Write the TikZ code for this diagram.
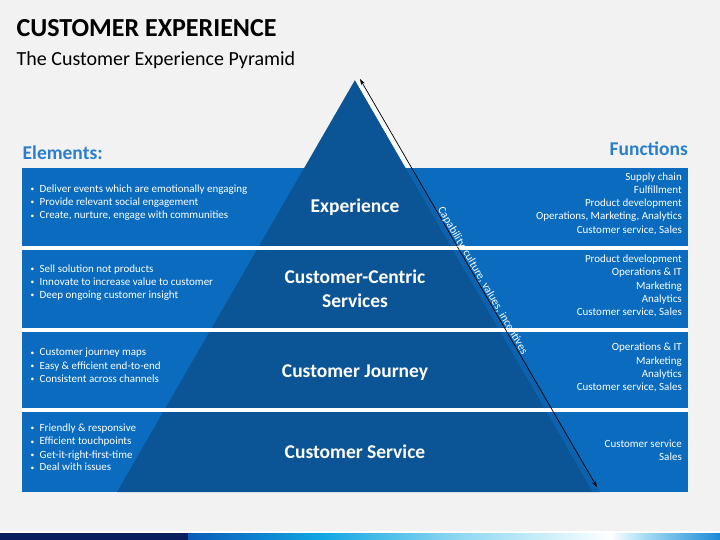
\documentclass[tikz,border=0pt]{standalone}
\usepackage{fontspec}
\setmainfont{Carlito}
\usetikzlibrary{arrows.meta,calc}
\definecolor{bg}{HTML}{F2F2F2}
\definecolor{band}{HTML}{0A6BBF}
\definecolor{face}{HTML}{0B5495}
\definecolor{facet}{HTML}{0D62AE}
\definecolor{headblue}{HTML}{2A7FCC}
\definecolor{navy}{HTML}{0B1F5E}
\definecolor{gA}{HTML}{0A5CB8}
\definecolor{gB}{HTML}{12A6E3}
\definecolor{gC}{HTML}{8FD8F2}
\definecolor{gD}{HTML}{D0F0FA}
\definecolor{gE}{HTML}{FFFFFF}
\definecolor{gF}{HTML}{A5DCF4}
\definecolor{gG}{HTML}{1A8AD6}
\begin{document}
\begin{tikzpicture}[x=1pt,y=-1pt,
  smalltext/.style={text=white,font=\fontsize{11}{13}\selectfont,inner sep=0pt},
  lefttext/.style={smalltext,anchor=base west},
  righttext/.style={smalltext,anchor=base east},
  bulletmark/.style={text=white,font=\fontsize{7.5}{8}\selectfont,inner sep=0pt,anchor=base west},
  pyrlabel/.style={text=white,font=\fontsize{19.5}{22}\selectfont\bfseries,inner sep=0pt,anchor=base},
  heading/.style={text=headblue,font=\fontsize{19.5}{22}\selectfont\bfseries,inner sep=0pt},
  gapline/.style={fill=white}]
\useasboundingbox (0,0) rectangle (720,540);
\fill[bg] (0,0) rectangle (720,540);

% title
\node[anchor=base west,inner sep=0pt,font=\fontsize{26}{30}\selectfont\bfseries] (title) at (16.5,36.7) {CUSTOMER EXPERIENCE};
\node[anchor=base west,inner sep=0pt,font=\fontsize{20}{24}\selectfont] (subtitle) at (16.5,65.5) {The Customer Experience Pyramid};
\node[heading,anchor=base west] (elements) at (22.5,160) {Elements:};
\node[heading,anchor=base east] (functions) at (688,156) {Functions};

% bands
\fill[band] (22,168) rectangle (688,492);

% pyramid
\coordinate (apex) at (355,80);
\coordinate (bl) at (117,492);
\coordinate (br) at (593,492);
\coordinate (atop) at (360,79);
\coordinate (abot) at (597,487);
\fill[face] (apex) -- (bl) -- (br) -- cycle;
\begin{scope}
  \clip (0,168) rectangle (720,492);
  \fill[facet] (apex) -- (br) -- (600,492) -- (359,80) -- cycle;
\end{scope}
\begin{scope}
  \clip (0,0) rectangle (720,168);
  \fill[white] (apex) -- (br) -- (600,492) -- (359,80) -- cycle;
\end{scope}

% white gaps between bands
\fill[gapline] (22,245.5) rectangle (688,249.8);
\fill[gapline] (22,327.8) rectangle (688,332.2);
\fill[gapline] (22,407.8) rectangle (688,412.2);

% arrow
\draw[line width=0.7pt,{Stealth[length=6pt,width=4pt]}-{Stealth[length=6pt,width=4pt]}] (atop) -- (abot);
\coordinate (ttop) at ($(atop)+(1.4,-0.8)$);
\coordinate (tbot) at ($(abot)+(1.4,-0.8)$);
\path (ttop) -- node[sloped,anchor=base,inner sep=0pt,text=white,font=\fontsize{11.3}{13}\selectfont] (cap) {Capability, culture, values, incentives} (tbot);

% pyramid labels
\node[pyrlabel] (pl1) at (355,212.5) {Experience};
\node[pyrlabel] (pl2a) at (355,283) {Customer-Centric};
\node[pyrlabel] (pl2b) at (355,307) {Services};
\node[pyrlabel] (pl3) at (355,377) {Customer Journey};
\node[pyrlabel] (pl4) at (355,458) {Customer Service};

% left bullet text
\foreach \y/\t [count=\i] in {
  192.2/{Deliver events which are emotionally engaging},
  205.5/{Provide relevant social engagement},
  218.9/{Create, nurture, engage with communities},
  272.2/{Sell solution not products},
  285.5/{Innovate to increase value to customer},
  298.2/{Deep ongoing customer insight},
  355.9/{Customer journey maps},
  369.2/{Easy \& efficient end-to-end},
  382.5/{Consistent across channels},
  431.5/{Friendly \& responsive},
  444.9/{Efficient touchpoints},
  458.2/{Get-it-right-first-time},
  470.9/{Deal with issues}}
{
  \node[bulletmark] (b\i) at (30.5,\y-0.6) {•};
  \node[lefttext] (l\i) at (39.5,\y) {\t};
}

% right function text
\foreach \y/\t [count=\i] in {
  180.5/{Supply chain},
  193.5/{Fulfillment},
  206.5/{Product development},
  219.9/{Operations, Marketing, Analytics},
  233.2/{Customer service, Sales},
  262.5/{Product development},
  275.9/{Operations \& IT},
  289.2/{Marketing},
  302.5/{Analytics},
  315.9/{Customer service, Sales},
  350.9/{Operations \& IT},
  364.2/{Marketing},
  377.5/{Analytics},
  390.5/{Customer service, Sales},
  447.2/{Customer service},
  460.5/{Sales}}
{
  \node[righttext] (r\i) at (682,\y) {\t};
}

% bottom bar
\fill[white] (0,531.3) rectangle (720,533);
\fill[navy] (0,533) rectangle (188.5,540);
\shade[left color=gA,right color=gB] (188,533) rectangle (321,540);
\shade[left color=gB,right color=gC] (320.5,533) rectangle (459,540);
\shade[left color=gC,right color=gD] (458.5,533) rectangle (551,540);
\shade[left color=gD,right color=gE] (550.5,533) rectangle (611,540);
\shade[left color=gE,right color=gF] (610.5,533) rectangle (645,540);
\shade[left color=gF,right color=gG] (644.5,533) rectangle (720,540);
\end{tikzpicture}
\end{document}
